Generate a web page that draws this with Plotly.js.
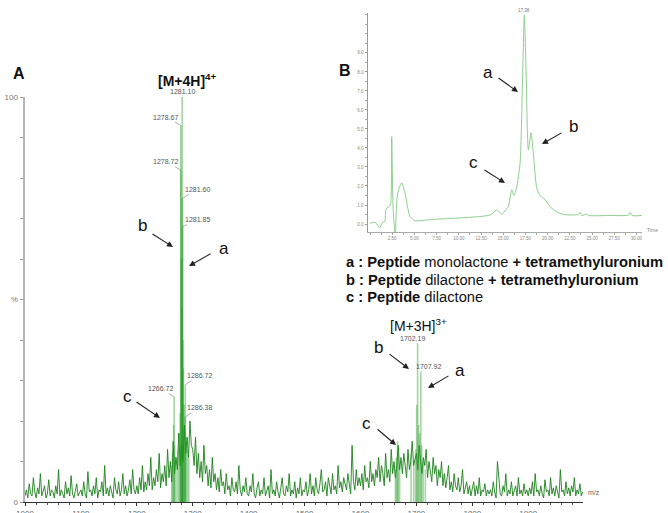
<!DOCTYPE html>
<html>
<head>
<meta charset="utf-8">
<script src="https://cdn.plot.ly/plotly-3.0.1.min.js"></script>
<style>
  html, body { margin: 0; padding: 0; background: #fff; }
  #chart { width: 668px; height: 513px; }
</style>
</head>
<body>
<div id="chart"></div>
<script>
// ---- Mass spectrum (panel A): background noise sampled every 2.5 m/z from 1000 ----
const noiseInt = [
  // 1000 - 1097.5
  1.5, 3, 1, 4.5, 2, 1.5, 6, 2.5, 1, 3.5, 2, 7, 1.5, 2.5, 4, 1, 2, 5.5, 1.5, 3,
  2.5, 1, 4, 2, 8, 1.5, 3, 2, 1, 5, 2, 3.5, 1.5, 6.5, 2, 1, 3, 4.5, 1.5, 2.5,
  // 1100 - 1197.5
  3, 1.5, 5, 2, 1, 7.5, 2.5, 3, 1.5, 4, 2, 6, 1, 3, 2.5, 5, 1.5, 9, 2, 3.5,
  1.5, 4, 2.5, 1, 6, 3, 2, 5, 1.5, 3, 7, 2, 4, 1.5, 3, 5.5, 2, 8, 3, 2,
  // 1200 - 1297.5
  4, 2, 6, 3, 9, 2.5, 5, 3, 7, 4, 11, 3, 6, 4, 8, 5, 12, 3.5, 7, 5,
  9, 4, 13, 6, 10, 5, 15, 7, 11, 8, 17, 9, 14, 10, 19, 12, 16, 11, 20, 14,
  // 1300 - 1397.5
  13, 9, 16, 7, 12, 6, 10, 5, 14, 7, 9, 4, 8, 3.5, 11, 5, 7, 3, 6, 2.5,
  8, 4, 5, 2, 7, 3, 4, 1.5, 6, 3, 2.5, 5, 2, 9, 3, 1.5, 4, 2.5, 6, 2,
  // 1400 - 1497.5
  1.5, 4, 2.5, 7, 2, 1, 3.5, 5, 1.5, 3, 2, 6, 1.5, 2.5, 4, 1, 8, 2, 3, 1.5,
  5, 2.5, 1, 3.5, 6, 2, 1.5, 4, 2.5, 7, 1.5, 3, 2, 5, 1, 3.5, 2, 6, 1.5, 3,
  // 1500 - 1597.5
  2.5, 5, 1.5, 3, 7, 2, 4, 1.5, 6, 3, 2, 4.5, 8, 2.5, 3, 5, 1.5, 6, 3.5, 2,
  7, 3, 4, 2, 9, 3.5, 5, 2.5, 6, 4, 3, 7, 4.5, 2, 14, 5, 3, 8, 4, 6,
  // 1600 - 1697.5
  4, 7, 3, 9, 5, 6, 3.5, 10, 5, 7, 4, 8, 6, 11, 5, 9, 7, 4, 12, 6,
  8, 5, 13, 7, 10, 6, 9, 14, 8, 11, 7, 12, 9, 6, 13, 8, 10, 15, 9, 11,
  // 1700 - 1797.5
  12, 8, 14, 10, 7, 11, 9, 13, 6, 10, 8, 5, 11, 7, 9, 4, 8, 6, 10, 4,
  7, 3.5, 6, 9, 3, 5, 2.5, 7, 4, 3, 6, 2.5, 4, 8, 2, 3.5, 5, 2, 4, 1.5,
  // 1800 - 1897.5
  3, 5, 1.5, 4, 2, 6, 1.5, 3, 2.5, 4.5, 1.5, 3, 2, 3, 1.5, 5, 2.5, 1, 10, 6,
  2, 1.5, 4, 2.5, 7, 1.5, 3, 2, 5, 1.5, 2.5, 4, 1.5, 6, 2, 3, 1.5, 4.5, 2, 3,
  // 1900 - 1997.5
  1.5, 3.5, 2, 5, 1.5, 7, 2.5, 3, 1.5, 4, 2, 1, 5.5, 2.5, 3, 1.5, 6, 2, 3.5, 1.5,
  4, 2, 1, 8, 2.5, 3, 1.5, 5, 2, 3.5, 1.5, 4, 2.5, 6, 1.5, 3, 2, 4.5, 1.5, 2.5
];
const noiseStart = 1000;
const noiseStep = 2.5;

// Ion peaks of the [M+4H]4+ and [M+3H]3+ clusters (m/z, relative intensity %)
const peakMz = [1262.5, 1264.0, 1265.9, 1266.72, 1267.6, 1270.2, 1273.5, 1276.0, 1277.4,
  1278.67, 1278.72, 1279.9, 1280.4, 1281.10, 1281.60, 1281.85, 1282.4, 1283.2, 1284.5,
  1285.6, 1286.38, 1286.72, 1288.1, 1290.3, 1293.0,
  1662.5, 1664.3, 1666.2, 1667.4, 1670.0, 1690.5, 1695.2, 1698.8, 1700.6, 1702.19,
  1703.9, 1705.6, 1707.92, 1709.4, 1712.0, 1716.0];
const peakInt = [9, 12, 19, 26, 14, 11, 13, 17, 22,
  93, 82, 60, 48, 100, 75, 68, 40, 33, 24,
  18, 21, 29, 16, 13, 11,
  8, 11, 15, 13, 9, 12, 10, 13, 24, 39,
  19, 17, 32, 14, 10, 8];

// Peaks carrying an m/z label, with label offset (px) from the peak top
const labelMz  = [1281.10, 1278.67, 1278.72, 1281.60, 1281.85, 1286.72, 1286.38, 1266.72, 1702.19, 1707.92];
const labelInt = [100, 93, 82, 75, 68, 29, 21, 26, 39, 32];
const labelDx  = [0, -15, -15, 15, 15, 14, 14, -14, -5, 8];
const labelDy  = [-6, -8, -8, -9, -7, -9, -9, -8, -6, -6];

const mzTicks = [1000, 1100, 1200, 1300, 1400, 1500, 1600, 1700, 1800, 1900];
const pctTicks = [0, 10, 20, 30, 40, 50, 60, 70, 80, 90, 100];
const pctText  = ['0', '', '', '', '', '%', '', '', '', '', '100'];

// ---- Chromatogram (panel B) ----
const rtMin = [0, 0.6, 1.1, 1.4, 1.65, 1.8, 2.2, 2.35, 2.44, 2.6, 2.85, 3.0, 3.2, 3.57, 3.9,
  4.5, 5.05, 6.5, 8.5, 10.5, 12.5, 13.5, 13.9, 14.26, 14.83, 15.57, 15.95, 16.2, 16.5,
  16.9, 17.2, 17.38, 17.57, 17.83, 18.13, 18.4, 18.77, 19.14, 19.7, 20.3, 21.0, 21.8,
  23.46, 23.65, 23.85, 24.4, 24.6, 27.0, 29.1, 29.3, 29.5, 30.6];
const rtSignal = [0.05, 0.08, -0.2, 0.1, 0.12, 0.8, 0.95, 1.2, 4.6, 0.8, -0.6, 1.2, 1.8, 2.17, 1.7,
  0.4, 0.17, 0.22, 0.28, 0.33, 0.4, 0.47, 0.6, 0.75, 0.53, 0.93, 1.8, 1.5, 1.9,
  3.2, 8.1, 11.0, 8.1, 3.9, 4.8, 3.7, 1.9, 1.5, 1.3, 0.9, 0.65, 0.5,
  0.5, 0.62, 0.45, 0.52, 0.45, 0.45, 0.47, 0.62, 0.45, 0.45];
const rtTicks = [2.5, 5, 7.5, 10, 12.5, 15, 17.5, 20, 22.5, 25, 27.5, 30];
const rtText  = ['2.50', '5.00', '7.50', '10.00', '12.50', '15.00', '17.50', '20.00', '22.50', '25.00', '27.50', '30.00'];
const sigTicks = [0, 1, 2, 3, 4, 5, 6, 7, 8, 9];
const sigText  = ['0.0', '1.0', '2.0', '3.0', '4.0', '5.0', '6.0', '7.0', '8.0', '9.0'];
const topPeakRt = 17.38;
const topPeakSignal = 11.0;

// ---- page geometry helpers (pixel -> paper) ----
const W = 668, H = 513;
const px = x => x / W;
const py = y => 1 - y / H;
const FONT = 'Liberation Sans, Arial, sans-serif';

// noise sampling grid
const noiseMz = noiseInt.map((_, i) => noiseStart + noiseStep * i);

// stick traces for peaks
const stickX = [], stickY = [];
peakMz.forEach((m, i) => { stickX.push(m, m, null); stickY.push(0, peakInt[i], null); });

const traces = [
  { x: noiseMz, y: noiseInt, type: 'scatter', mode: 'lines',
    line: { color: '#1c801c', width: 0.9 }, hoverinfo: 'skip', xaxis: 'x', yaxis: 'y' },
  { x: stickX, y: stickY, type: 'scatter', mode: 'lines',
    line: { color: 'rgba(30,150,30,0.4)', width: 1.6 }, hoverinfo: 'skip', xaxis: 'x', yaxis: 'y' },
  { x: rtMin, y: rtSignal, type: 'scatter', mode: 'lines',
    line: { color: '#8fcf8f', width: 1, shape: 'spline', smoothing: 0.6 }, hoverinfo: 'skip',
    xaxis: 'x2', yaxis: 'y2' }
];

const annotations = [];
function txt(x, y, text, size, opts) {
  annotations.push(Object.assign({
    x: px(x), y: py(y), xref: 'paper', yref: 'paper', text: text, showarrow: false,
    xanchor: 'center', yanchor: 'middle', font: { family: FONT, size: size, color: '#111' }
  }, opts || {}));
}
function arrow(tx, ty, hx, hy) {
  annotations.push({
    x: px(hx), y: py(hy), xref: 'paper', yref: 'paper', text: '', showarrow: true,
    ax: tx - hx, ay: ty - hy, arrowhead: 2, arrowsize: 1.1, arrowwidth: 1.1,
    arrowcolor: '#222', standoff: 0, startstandoff: 0
  });
}

// panel letters
txt(19, 73, '<b>A</b>', 16);
txt(345, 70, '<b>B</b>', 16);

// ion labels
txt(156, 80, '<b>[M+4H]<sup>4+</sup></b>', 14, { xanchor: 'left' });
txt(388, 325, '[M+3H]<sup>3+</sup>', 14, { xanchor: 'left' });

// component letters with arrows
txt(142, 225, 'b', 17); arrow(151, 233, 173, 247);
txt(224, 248, 'a', 17); arrow(212, 253, 189, 266);
txt(127, 396, 'c', 17); arrow(135, 401, 160, 418);
txt(378, 347, 'b', 17); arrow(388, 353, 409, 369);
txt(460, 370, 'a', 17); arrow(450, 375, 428, 388);
txt(366, 423, 'c', 17); arrow(376, 428, 396, 445);
txt(488, 72, 'a', 17);  arrow(497, 77, 518, 92);
txt(573, 126, 'b', 17); arrow(563, 132, 542, 144);
txt(473, 163, 'c', 17); arrow(483, 169, 505, 183);

// key
txt(344, 262, '<b>a : Peptide</b> monolactone <b>+ tetramethyluronium</b>', 14.7, { xanchor: 'left' });
txt(344, 280, '<b>b : Peptide</b> dilactone <b>+ tetramethyluronium</b>', 14.7, { xanchor: 'left' });
txt(344, 297, '<b>c : Peptide</b> dilactone', 14.7, { xanchor: 'left' });

// axis captions
txt(586, 492, 'm/z', 7, { xanchor: 'left', font: { family: FONT, size: 7, color: '#666' } });
txt(645, 230, 'Time', 5, { xanchor: 'left', font: { family: FONT, size: 5, color: '#888' } });

// m/z labels on the spectrum peaks
labelMz.forEach((m, i) => {
  annotations.push({
    x: m, y: labelInt[i], xref: 'x', yref: 'y', text: m.toFixed(2),
    showarrow: i !== 0, arrowhead: 0, arrowwidth: 0.6, arrowcolor: '#777',
    ax: labelDx[i], ay: labelDy[i], standoff: 0,
    yshift: i === 0 ? 6 : 0,
    font: { family: FONT, size: 7, color: '#555' }
  });
});

// retention time label on the top chromatogram peak
annotations.push({
  x: topPeakRt, y: topPeakSignal, xref: 'x2', yref: 'y2', text: topPeakRt.toFixed(2),
  showarrow: false, yanchor: 'bottom', yshift: 0,
  font: { family: FONT, size: 4.5, color: '#777' }
});

const layout = {
  width: W, height: H,
  margin: { l: 0, r: 0, t: 0, b: 0 },
  paper_bgcolor: '#fff', plot_bgcolor: 'rgba(0,0,0,0)',
  showlegend: false,
  font: { family: FONT },
  xaxis: {
    domain: [px(25), px(583)], range: [1000, 1998], anchor: 'y',
    showline: true, linecolor: '#333', linewidth: 1, showgrid: false, zeroline: false,
    ticks: 'outside', ticklen: 3, tickcolor: '#333', tickvals: mzTicks,
    tickfont: { family: FONT, size: 8, color: '#666' },
    minor: { dtick: 20, ticks: 'outside', ticklen: 2, tickcolor: '#555', showgrid: false }
  },
  yaxis: {
    domain: [py(502), py(97)], range: [0, 100], anchor: 'x',
    showline: true, linecolor: '#b5b5b5', linewidth: 2.5, showgrid: false, zeroline: false,
    ticks: 'outside', ticklen: 3, tickcolor: '#999', tickvals: pctTicks, ticktext: pctText,
    tickfont: { family: FONT, size: 8, color: '#777' }
  },
  xaxis2: {
    domain: [px(368), px(642)], range: [-0.23, 30.63], anchor: 'y2',
    showline: true, linecolor: '#aaa', linewidth: 1, showgrid: false, zeroline: false,
    ticks: 'outside', ticklen: 2, tickcolor: '#aaa', tickvals: rtTicks, ticktext: rtText,
    tickfont: { family: FONT, size: 4.5, color: '#888' },
    minor: { dtick: 1.25, ticks: 'outside', ticklen: 1.5, tickcolor: '#aaa', showgrid: false }
  },
  yaxis2: {
    domain: [py(232), py(13)], range: [-0.42, 11.1], anchor: 'x2',
    showline: true, linecolor: '#999', linewidth: 1.5, showgrid: false, zeroline: false,
    ticks: 'outside', ticklen: 2, tickcolor: '#999', tickvals: sigTicks, ticktext: sigText,
    tickfont: { family: FONT, size: 4.5, color: '#888' },
    minor: { dtick: 0.5, ticks: 'outside', ticklen: 1.5, tickcolor: '#aaa', showgrid: false }
  },
  annotations: annotations
};

Plotly.newPlot('chart', traces, layout, { displayModeBar: false, staticPlot: true });
</script>
</body>
</html>
